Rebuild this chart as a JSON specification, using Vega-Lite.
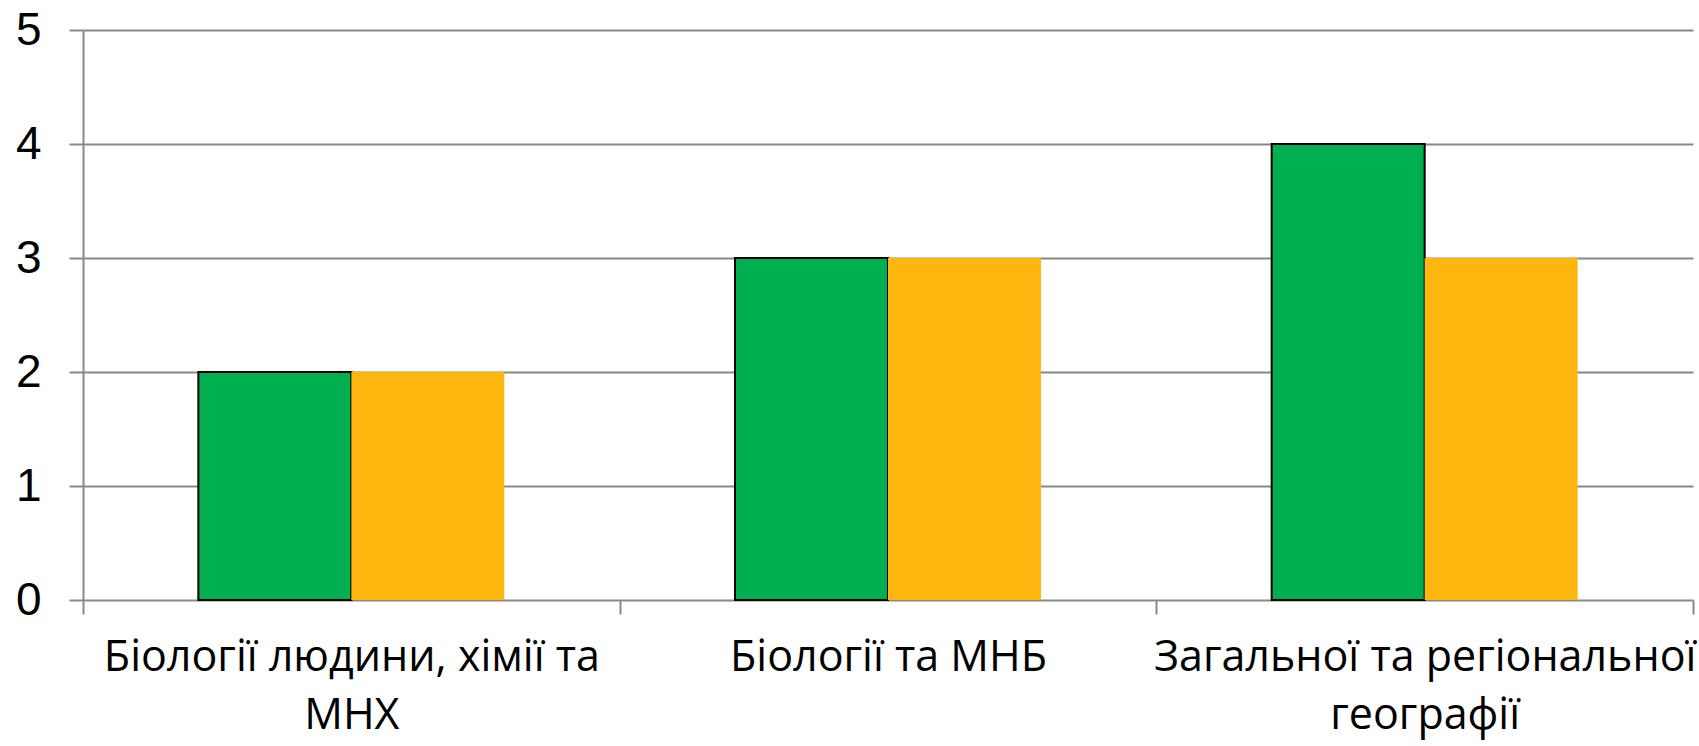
{
  "$schema": "https://vega.github.io/schema/vega-lite/v6.json",
  "width": 1610,
  "height": 570,
  "autosize": {"type": "none"},
  "padding": {"left": 83, "top": 30, "right": 6, "bottom": 146},
  "background": "white",
  "data": {
    "values": [
      {"category": "Біології людини, хімії та МНХ", "series": "A", "value": 2},
      {"category": "Біології людини, хімії та МНХ", "series": "B", "value": 2},
      {"category": "Біології та МНБ", "series": "A", "value": 3},
      {"category": "Біології та МНБ", "series": "B", "value": 3},
      {"category": "Загальної та регіональної географії", "series": "A", "value": 4},
      {"category": "Загальної та регіональної географії", "series": "B", "value": 3}
    ]
  },
  "mark": {"type": "bar", "strokeWidth": 2},
  "encoding": {
    "x": {
      "field": "category",
      "type": "nominal",
      "sort": null,
      "scale": {"paddingInner": 0, "paddingOuter": 0},
      "axis": {
        "title": null,
        "labelAngle": 0,
        "tickBand": "extent",
        "domain": false,
        "grid": false,
        "ticks": true,
        "tickSize": 14,
        "tickColor": "#888888",
        "tickWidth": 2,
        "labelFont": "Open Sans",
        "labelFontSize": 43,
        "labelColor": "#000000",
        "labelPadding": 22,
        "labelLineHeight": 58,
        "labelLimit": 0,
        "labelExpr": "datum.value == 'Біології людини, хімії та МНХ' ? ['Біології людини, хімії та', 'МНХ'] : datum.value == 'Загальної та регіональної географії' ? ['Загальної та регіональної', 'географії'] : datum.value"
      }
    },
    "xOffset": {
      "field": "series",
      "type": "nominal",
      "scale": {"paddingInner": 0, "paddingOuter": 0.754}
    },
    "y": {
      "field": "value",
      "type": "quantitative",
      "scale": {"domain": [0, 5]},
      "axis": {
        "title": null,
        "values": [0, 1, 2, 3, 4, 5],
        "domain": true,
        "domainColor": "#888888",
        "domainWidth": 2,
        "grid": true,
        "gridColor": "#888888",
        "gridWidth": 2,
        "ticks": true,
        "tickSize": 14,
        "tickColor": "#888888",
        "tickWidth": 2,
        "labelFont": "Liberation Sans",
        "labelFontSize": 46,
        "labelColor": "#000000",
        "labelPadding": 28
      }
    },
    "color": {
      "field": "series",
      "type": "nominal",
      "scale": {"domain": ["A", "B"], "range": ["#00AF50", "#FFB70F"]},
      "legend": null
    },
    "stroke": {
      "field": "series",
      "type": "nominal",
      "scale": {"domain": ["A", "B"], "range": ["#000000", "transparent"]},
      "legend": null
    }
  },
  "config": {"view": {"stroke": null}}
}
